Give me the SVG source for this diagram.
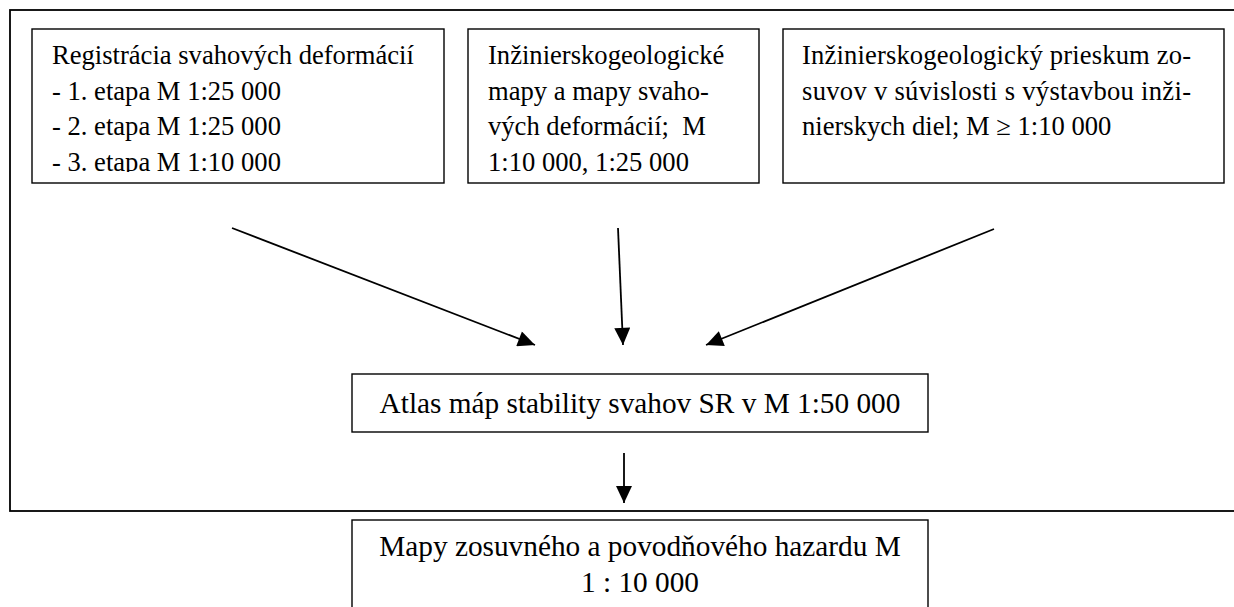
<svg xmlns="http://www.w3.org/2000/svg" width="1234" height="607" viewBox="0 0 1234 607">
<style>
text{font-family:"Liberation Serif","Times New Roman",serif;fill:#000;white-space:pre}
.t{font-size:26.6px}
.b{font-size:29.3px}
.box{fill:#fff;stroke:#000;stroke-width:1.4}
.frame{fill:none;stroke:#000;stroke-width:1.8}
.conn line{stroke:#000;stroke-width:1.8}
</style>
<defs>
<marker id="ah" markerUnits="userSpaceOnUse" markerWidth="18" markerHeight="16" viewBox="0 0 16 15" refX="16" refY="7.5" orient="auto">
<path d="M0,0 L16,7.5 L0,15 Z" fill="#000"/>
</marker>
<clipPath id="c1"><rect x="32" y="29" width="412" height="143"/></clipPath>
</defs>
<rect id="frame" class="frame" x="10" y="10" width="1240" height="501"/>
<g id="n1">
<rect class="box" x="32" y="29" width="412" height="154"/>
<g clip-path="url(#c1)">
<text class="t" x="52" y="64">Registrácia svahových deformácií</text>
<text class="t" x="52" y="99.5">- 1. etapa M 1:25 000</text>
<text class="t" x="52" y="135">- 2. etapa M 1:25 000</text>
<text class="t" x="52" y="170.5">- 3. etapa M 1:10 000</text>
</g>
</g>
<g id="n2">
<rect class="box" x="468" y="29" width="291" height="154"/>
<text class="t" x="488" y="64">Inžinierskogeologické</text>
<text class="t" x="488" y="99.5">mapy a mapy svaho-</text>
<text class="t" x="488" y="135">vých deformácií;  M</text>
<text class="t" x="488" y="170.5">1:10 000, 1:25 000</text>
</g>
<g id="n3">
<rect class="box" x="783" y="29" width="441" height="154"/>
<text class="t" x="802" y="64" textLength="389" lengthAdjust="spacing">Inžinierskogeologický prieskum zo-</text>
<text class="t" x="802" y="99.5" textLength="389" lengthAdjust="spacing">suvov v súvislosti s výstavbou inži-</text>
<text class="t" x="802" y="135">nierskych diel; M ≥ 1:10 000</text>
</g>
<g id="n4">
<rect class="box" x="352" y="374" width="576" height="58"/>
<text class="b" x="640" y="413" text-anchor="middle">Atlas máp stability svahov SR v M 1:50 000</text>
</g>
<g id="n5">
<rect class="box" x="352" y="520" width="576" height="100"/>
<text class="b" x="640" y="556" text-anchor="middle">Mapy zosuvného a povodňového hazardu M</text>
<text class="b" x="640" y="592" text-anchor="middle">1 : 10 000</text>
</g>
<g id="connectors" class="conn">
<line x1="232" y1="228" x2="535" y2="345" marker-end="url(#ah)"/>
<line x1="618" y1="228" x2="623" y2="345" marker-end="url(#ah)"/>
<line x1="994" y1="229" x2="706" y2="345" marker-end="url(#ah)"/>
<line x1="624" y1="453" x2="624" y2="503" marker-end="url(#ah)"/>
</g>
</svg>
